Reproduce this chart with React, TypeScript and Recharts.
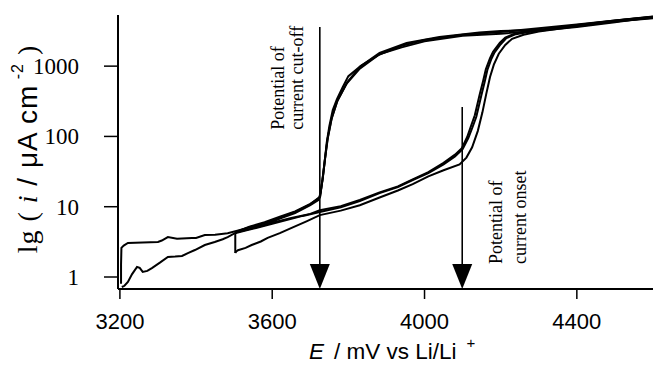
import React from 'react';
import { LineChart, Line, XAxis, YAxis, ReferenceLine, ReferenceDot } from 'recharts';

// E / mV vs Li/Li+  and  i / µA cm^-2
const forward1: [number, number][] = [
  [3205, 0.72], [3212, 0.75], [3221, 0.85], [3232, 1.1], [3245, 1.39], [3252, 1.35], [3260, 1.18],
  [3272, 1.22], [3284, 1.34], [3305, 1.6], [3326, 1.93], [3345, 1.95], [3363, 1.99], [3380, 2.2],
  [3397, 2.42], [3423, 2.85], [3449, 3.15], [3470, 3.45], [3483, 3.7], [3502, 4.2], [3530, 4.6],
  [3560, 5.0], [3600, 5.7], [3640, 6.5], [3680, 7.4], [3725, 8.4], [3780, 9.8], [3830, 12],
  [3882, 15.6], [3930, 19], [3969, 24], [4010, 30], [4050, 40], [4080, 52], [4100, 66], [4115, 95],
  [4126, 135], [4136, 190], [4149, 380], [4158, 600], [4165, 880], [4175, 1250], [4183, 1540],
  [4200, 2050], [4215, 2500], [4240, 2850], [4280, 3100], [4350, 3500], [4450, 4100], [4530, 4600],
  [4600, 5000],
];
const reverse1: [number, number][] = [
  [4600, 4900], [4500, 4300], [4400, 3750], [4300, 3300], [4200, 3150], [4144, 3000], [4039, 2600],
  [3953, 2130], [3882, 1540], [3829, 970], [3800, 720], [3785, 500], [3770, 340], [3759, 238],
  [3750, 140], [3743, 81], [3738, 45], [3733, 26], [3727, 16], [3722, 12.5], [3700, 10.5],
  [3660, 8.1], [3620, 6.8], [3580, 5.5], [3536, 5.0], [3483, 4.2], [3450, 4.0], [3423, 3.95],
  [3400, 3.6], [3389, 3.6], [3350, 3.5], [3326, 3.7], [3310, 3.3], [3300, 3.15], [3260, 3.1],
  [3221, 3.05], [3210, 2.8], [3204, 2.6], [3203, 1.5], [3203, 0.8],
];
const forward2: [number, number][] = [
  [3503, 2.2], [3505, 2.3], [3510, 2.4], [3530, 2.6], [3546, 2.85], [3570, 3.2], [3588, 3.6],
  [3620, 4.2], [3651, 5.0], [3690, 6.2], [3725, 7.6], [3780, 8.8], [3830, 10.5], [3882, 13.5],
  [3930, 17], [3969, 21], [4010, 27], [4050, 33], [4092, 40], [4110, 50], [4125, 70], [4140, 120],
  [4152, 220], [4162, 400], [4172, 700], [4182, 1050], [4195, 1500], [4212, 2000], [4230, 2450],
  [4260, 2800], [4300, 3100], [4400, 3700], [4500, 4300], [4600, 4800],
];
const reverse2: [number, number][] = [
  [4600, 5100], [4500, 4450], [4400, 3900], [4300, 3450], [4200, 3050], [4100, 2800], [4000, 2350],
  [3940, 1950], [3880, 1450], [3830, 920], [3795, 560], [3770, 310], [3755, 170], [3745, 90],
  [3738, 45], [3732, 24], [3725, 13.5], [3700, 11], [3660, 8.6], [3620, 7.2], [3580, 6.0],
  [3540, 5.2], [3510, 4.5], [3503, 4.2], [3503, 2.2],
];
const forward3: [number, number][] = [
  [3503, 4.3], [3540, 4.8], [3600, 5.9], [3650, 6.9], [3700, 7.9], [3725, 8.9], [3780, 10.2],
  [3830, 12.5], [3882, 16], [3930, 19.5], [3969, 24.5], [4010, 31], [4050, 42], [4080, 55],
  [4098, 68], [4112, 98], [4122, 140], [4132, 200], [4145, 400], [4154, 620], [4161, 900],
  [4172, 1300], [4180, 1600], [4198, 2150], [4212, 2550], [4240, 2950], [4300, 3250],
  [4400, 3850], [4500, 4450], [4600, 5050],
];
const reverse3: [number, number][] = [
  [4600, 5000], [4500, 4200], [4400, 3600], [4300, 3200], [4200, 2900], [4100, 2700], [4000, 2250],
  [3940, 1850], [3885, 1500], [3832, 1000], [3798, 600], [3772, 330], [3757, 190], [3746, 95],
  [3739, 50], [3733, 27], [3726, 14], [3700, 10.8], [3660, 8.4], [3620, 7.0], [3580, 5.8],
  [3540, 5.1], [3503, 4.3],
];

const xTicks = [3200, 3600, 4000, 4400];
const xMinorTicks = [3400, 3800, 4200];
const yTicks = [1, 10, 100, 1000];

const toPts = (arr: [number, number][]) => arr.map(([E, i]) => ({ E, i }));

const series = [forward1, reverse1, forward2, reverse2, forward3, reverse3];

const cutoffE = 3725;
const onsetE = 4099;

const makeArrow = (p: any) => {
  const { x1, y1, x2, y2 } = p;
  const top = Math.min(y1, y2);
  const bot = Math.max(y1, y2);
  return (
    <g>
      <line x1={x1} y1={top} x2={x2} y2={bot - 20} stroke="#000" strokeWidth={1.6} />
      <polygon points={`${x2 - 10},${bot - 25} ${x2 + 10},${bot - 25} ${x2},${bot}`} fill="#000" />
    </g>
  );
};

const annot = (lines: string[], dxs: number[]) => (p: any) => {
  const { cx, cy } = p;
  return (
    <g>
      {lines.map((t, k) => (
        <text
          key={k}
          x={cx + dxs[k]}
          y={cy}
          transform={`rotate(-90 ${cx + dxs[k]} ${cy})`}
          fontFamily="'Liberation Serif', serif"
          fontSize={18}
          fill="#000"
        >
          {t}
        </text>
      ))}
    </g>
  );
};

const YTick = (p: any) => {
  const { x, y, payload } = p;
  return (
    <text x={x} y={y} dx={-11} dy={8} textAnchor="end" fontFamily="'Liberation Serif', serif" fontSize={23} fill="#000">
      {payload.value}
    </text>
  );
};

const XTick = (p: any) => {
  const { x, y, payload } = p;
  return (
    <text x={x} y={y} dy={28} textAnchor="middle" fontFamily="'Liberation Sans', sans-serif" fontSize={22} fill="#000">
      {payload.value}
    </text>
  );
};

const XLabel = () => (
  <text x={309} y={359} fontFamily="'Liberation Sans', sans-serif" fontSize={22.5} fill="#000">
    <tspan fontStyle="italic">E</tspan>
    <tspan dx={10}>/ mV vs Li/Li</tspan>
    <tspan dx={10} dy={-11} fontSize={15}>+</tspan>
  </text>
);

const YLabel = () => (
  <text
    x={37}
    y={149}
    transform="rotate(-90 37 149)"
    textAnchor="middle"
    fontSize={28}
    letterSpacing={1}
    fill="#000"
  >
    <tspan fontFamily="'Liberation Serif', serif">lg ( </tspan>
    <tspan fontFamily="'Liberation Serif', serif" fontStyle="italic">i</tspan>
    <tspan fontFamily="'Liberation Sans', sans-serif"> / μA cm</tspan>
    <tspan fontFamily="'Liberation Sans', sans-serif" fontSize={16} dy={-14}> -2</tspan>
    <tspan fontFamily="'Liberation Serif', serif" dy={14}>  )</tspan>
  </text>
);

export default function App() {
  return (
    <div style={{ position: 'absolute', left: 0, top: 0, background: '#fff' }}>
      <LineChart width={653} height={365} margin={{ top: 15, right: 0, bottom: 0, left: 0 }}>
        <XAxis
          xAxisId="main"
          type="number"
          dataKey="E"
          domain={[3195, 4600]}
          allowDataOverflow
          ticks={xTicks}
          tickSize={10}
          tickMargin={2}
          tick={<XTick />}
          axisLine={{ stroke: '#000', strokeWidth: 2 }}
          tickLine={{ stroke: '#000', strokeWidth: 1.5 }}
          height={76}
          label={{ content: <XLabel /> }}
        />
        <XAxis
          xAxisId="minor"
          type="number"
          dataKey="E"
          domain={[3195, 4600]}
          allowDataOverflow
          ticks={xMinorTicks}
          tickSize={5}
          tick={false}
          axisLine={false}
          tickLine={{ stroke: '#000', strokeWidth: 1.5 }}
          height={0}
        />
        <YAxis
          type="number"
          dataKey="i"
          scale="log"
          domain={[0.675, 5340]}
          allowDataOverflow
          ticks={yTicks}
          tickSize={14}
          tickMargin={14}
          tick={<YTick />}
          width={118}
          axisLine={{ stroke: '#000', strokeWidth: 2 }}
          tickLine={{ stroke: '#000', strokeWidth: 1.5 }}
          label={{ content: <YLabel /> }}
        />
        {series.map((s, k) => (
          <Line
            key={k}
            xAxisId="main"
            data={toPts(s)}
            dataKey="i"
            type="linear"
            stroke="#000"
            strokeWidth={2}
            dot={false}
            isAnimationActive={false}
          />
        ))}
        <ReferenceLine
          xAxisId="main"
          segment={[{ x: cutoffE, y: 3600 }, { x: cutoffE, y: 0.675 }]}
          shape={makeArrow}
        />
        <ReferenceLine
          xAxisId="main"
          segment={[{ x: onsetE, y: 262 }, { x: onsetE, y: 0.675 }]}
          shape={makeArrow}
        />
        <ReferenceDot
          xAxisId="main"
          x={cutoffE}
          y={124}
          shape={annot(['Potential of', 'current cut-off'], [-36, -17])}
        />
        <ReferenceDot
          xAxisId="main"
          x={onsetE}
          y={1.53}
          shape={annot(['Potential of', 'current onset'], [40, 64])}
        />
      </LineChart>
    </div>
  );
}
